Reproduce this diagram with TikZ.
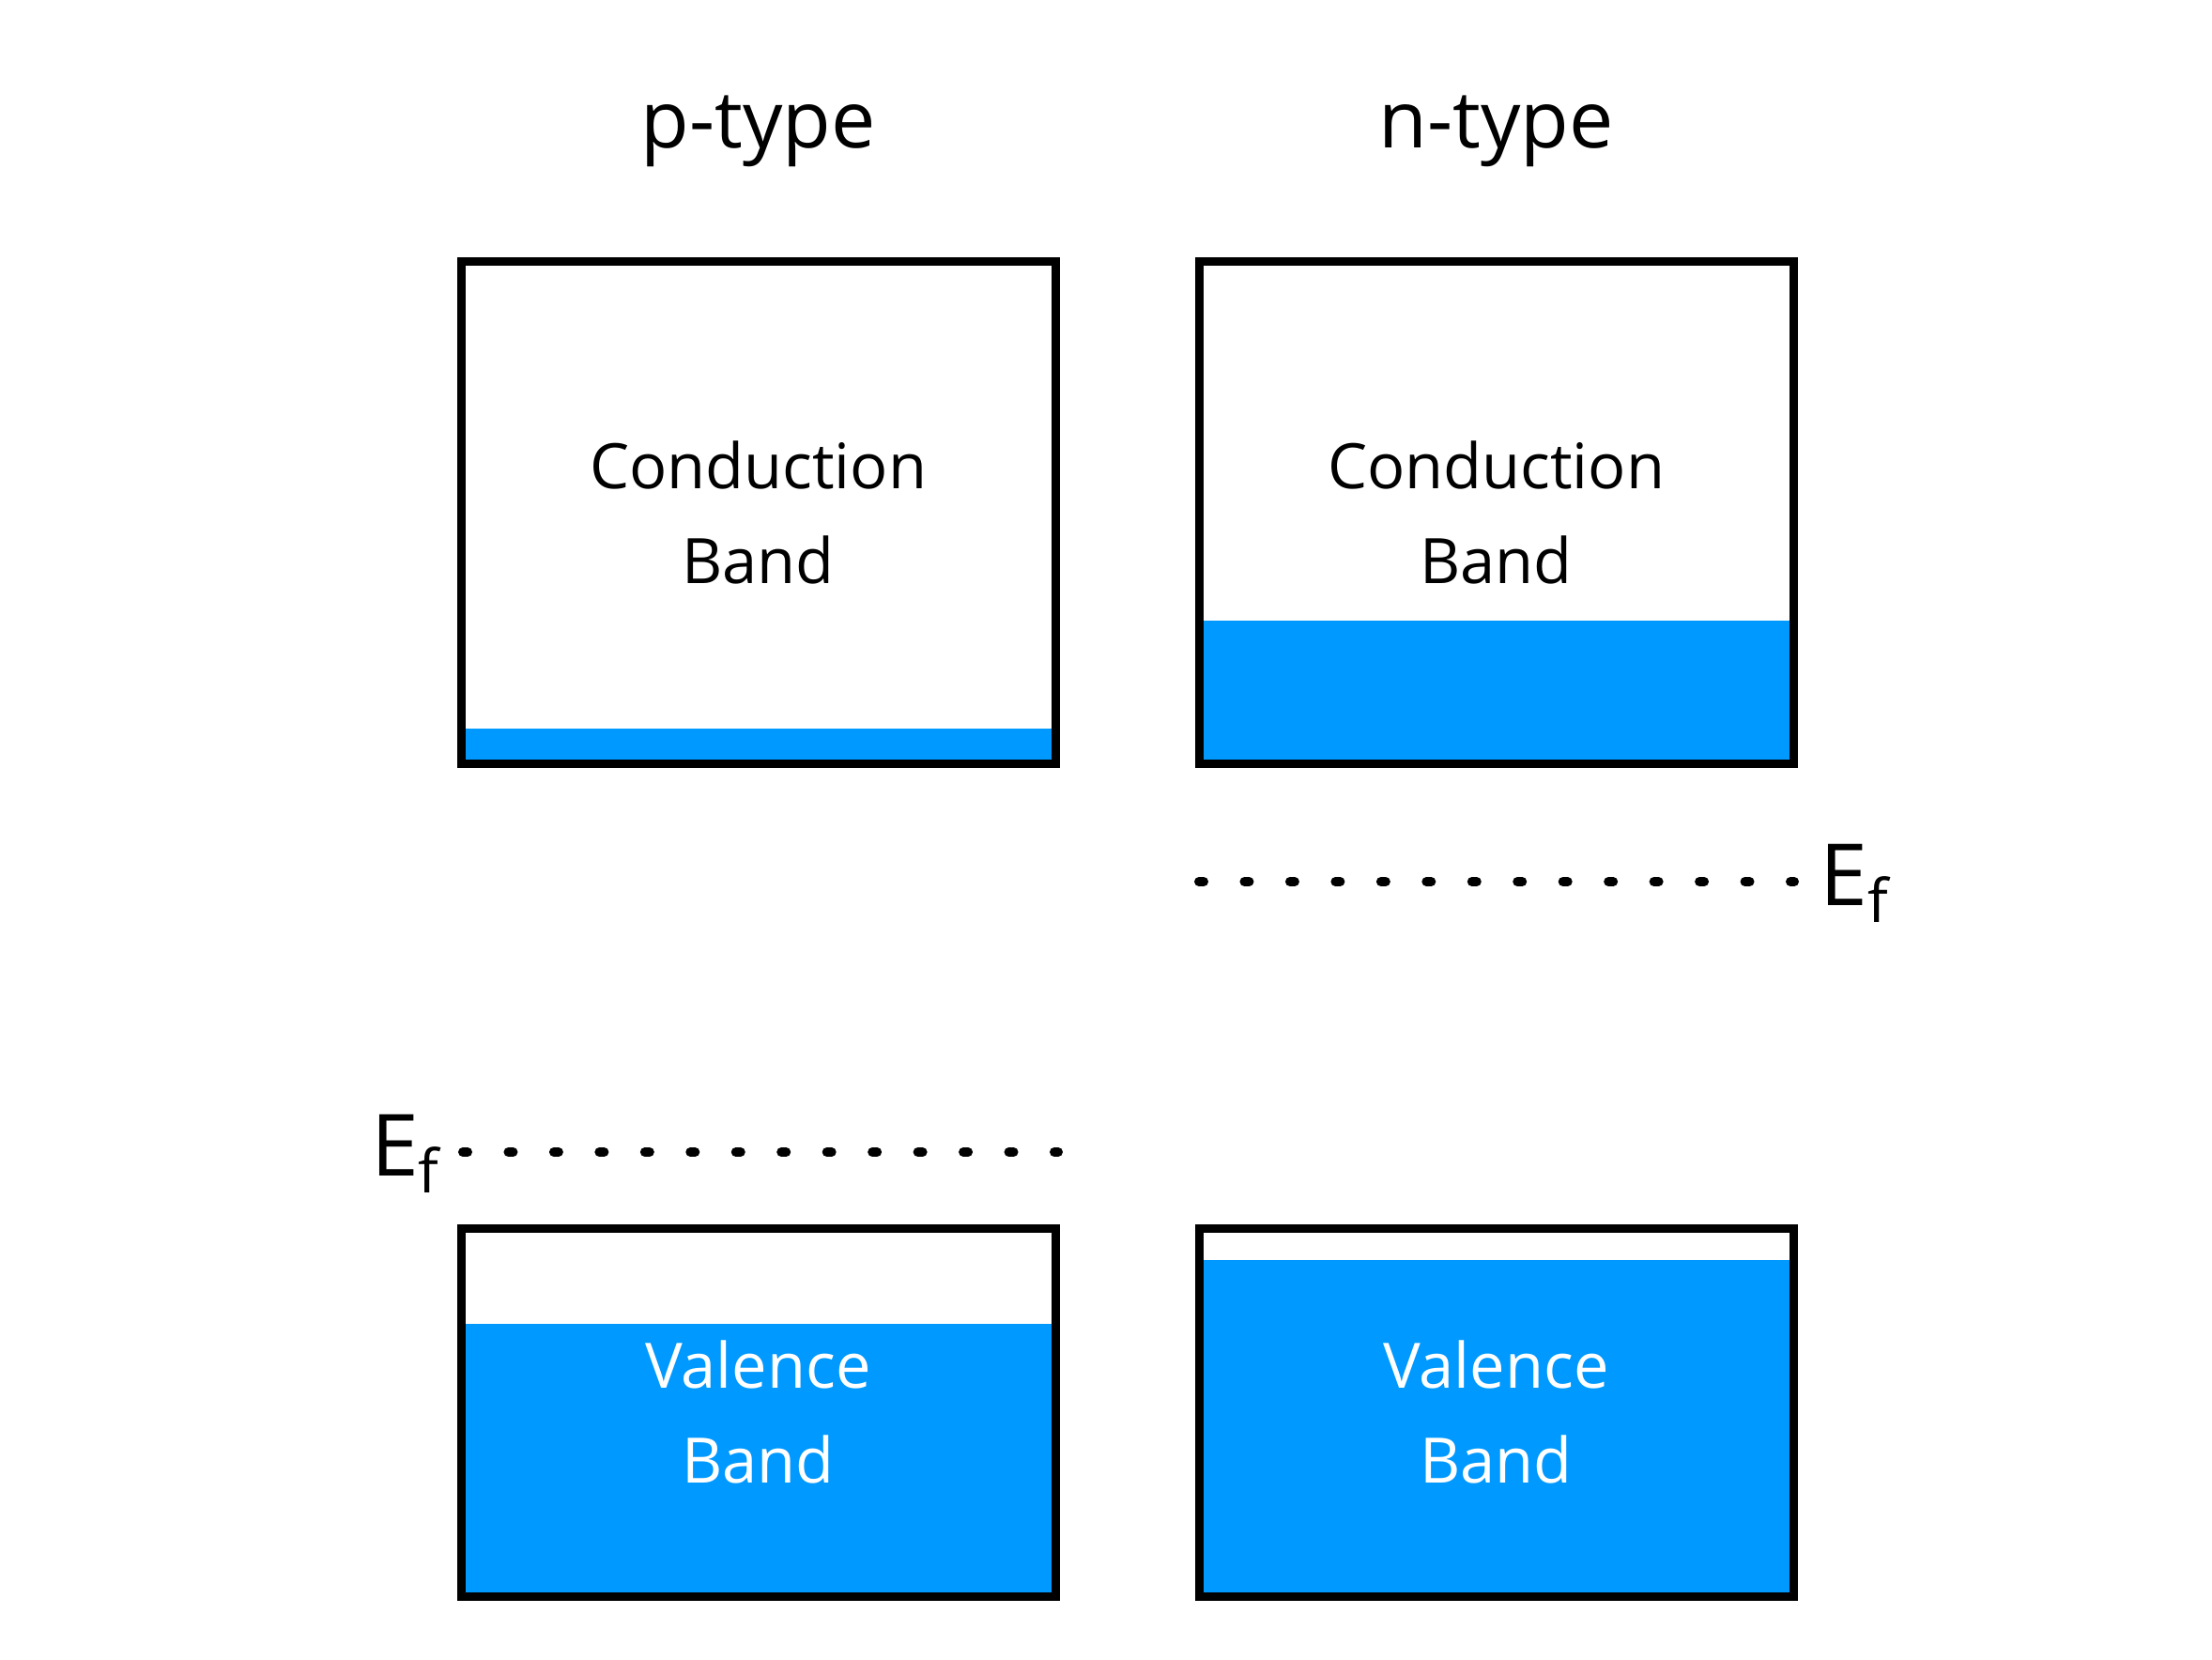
\documentclass[tikz,border=0pt]{standalone}
\usepackage{fontspec}
\setmainfont{Open Sans}
\usetikzlibrary{positioning}
\definecolor{bandblue}{RGB}{0,153,255}

\begin{document}
\begin{tikzpicture}[
    node distance=1.44cm,
    band/.style={draw,line width=0.09cm,minimum width=6.33cm,align=center,
        font=\fontsize{19}{28.5}\selectfont,
        path picture={\fill[bandblue] (path picture bounding box.south west)
            rectangle ([yshift=#1]path picture bounding box.south east);}},
    cband/.style={band=#1,minimum height=5.34cm},
    vband/.style={band=#1,minimum height=3.92cm,text=white},
    title/.style={font=\fontsize{24}{30}\selectfont},
    fermi/.style={line width=0.1cm,line cap=round,dash pattern=on 0.05cm off 0.4346cm},
    eflabel/.style={font=\fontsize{26}{30}\selectfont,inner sep=0pt}
]
\useasboundingbox (0,0) rectangle (23.56,-17.67);

% Conduction bands
\node[cband=0.37cm] (pcb) at (8.075,-5.46) {Conduction\\Band};
\node[cband=1.52cm,right=of pcb] (ncb) {Conduction\\Band};

% Valence bands
\node[vband=2.9cm,below=4.86cm of pcb] (pvb) {Valence\\Band};
\node[vband=3.58cm,below=4.86cm of ncb] (nvb) {Valence\\Band};

% Titles
\node[title,above=0.84cm of pcb] (ptitle) {p-type};
\node[title,above=0.84cm of ncb] (ntitle) {n-type};

% Fermi levels
\coordinate (nfa) at (12.77,-9.39);
\coordinate (nfb) at (19.11,-9.39);
\draw[fermi] (nfa) -- (nfb);
\node[eflabel,anchor=base west] (nef) at (19.38,-9.64) {E\textsubscript{f}};

\coordinate (pfa) at (4.93,-12.27);
\coordinate (pfb) at (11.27,-12.27);
\draw[fermi] (pfa) -- (pfb);
\node[eflabel,anchor=base east] (pef) at (4.70,-12.52) {E\textsubscript{f}};

\end{tikzpicture}
\end{document}
